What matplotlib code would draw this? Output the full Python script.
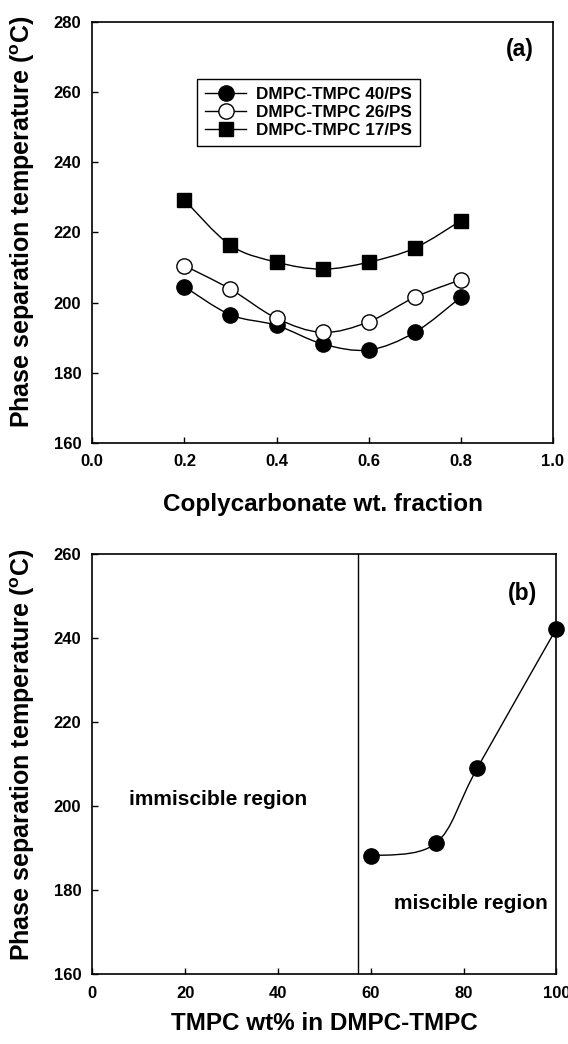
import numpy as np
import matplotlib.pyplot as plt
from matplotlib.path import Path
from matplotlib.patches import PathPatch
from matplotlib.lines import Line2D

plt.rcParams['font.family'] = ['Liberation Sans', 'DejaVu Sans']
plt.rcParams['font.weight'] = 'bold'
plt.rcParams['mathtext.fontset'] = 'custom'
plt.rcParams['mathtext.rm'] = 'Liberation Sans:bold'
plt.rcParams['mathtext.bf'] = 'Liberation Sans:bold'

# (a) phase separation temperature vs copolycarbonate fraction
frac = [0.2, 0.3, 0.4, 0.5, 0.6, 0.7, 0.8]
t_40 = [204.5, 196.5, 193.5, 188.2, 186.5, 191.5, 201.5]
t_26 = [210.5, 203.8, 195.5, 191.5, 194.5, 201.5, 206.5]
t_17 = [229.2, 216.3, 211.5, 209.5, 211.5, 215.5, 223.3]

# (b) phase separation temperature vs TMPC content
tmpc = [60, 74, 83, 100]
t_b = [188.2, 191.2, 209.2, 242.3]
boundary = 57.3

ylab = 'Phase separation temperature ($^{\\mathbf{o}}$C)'


def smooth_line(ax, x, y, lw=1.0):
    # Catmull-Rom curve through the points, drawn as cubic Bezier segments
    p = np.column_stack([x, y]).astype(float)
    verts = [p[0]]
    codes = [Path.MOVETO]
    for i in range(len(p) - 1):
        p0 = p[i - 1] if i > 0 else p[i]
        p3 = p[i + 2] if i + 2 < len(p) else p[i + 1]
        c1 = p[i] + (p[i + 1] - p0) / 6
        c2 = p[i + 1] - (p3 - p[i]) / 6
        verts += [c1, c2, p[i + 1]]
        codes += [Path.CURVE4] * 3
    ax.add_patch(PathPatch(Path(verts, codes), fill=False, lw=lw, color='black', zorder=2))


def style_axes(ax):
    for s in ax.spines.values():
        s.set_linewidth(1.2)
    ax.tick_params(direction='in', length=4, width=1, labelsize=12, pad=8)
    for lab in ax.get_xticklabels() + ax.get_yticklabels():
        lab.set_fontweight('bold')


fig = plt.figure(figsize=(5.68, 10.44), dpi=100)

# top panel
ax1 = fig.add_axes([0.1625, 0.5757, 0.811, 0.4036])
ms = 11
for y, mk, fc in [(t_40, 'o', 'black'), (t_26, 'o', 'white'), (t_17, 's', 'black')]:
    smooth_line(ax1, frac, y)
    ax1.plot(frac, y, ls='none', marker=mk, ms=ms if mk == 'o' else ms - 0.5,
             mfc=fc, mec='black', mew=1.0, zorder=3)

handles = [Line2D([], [], color='black', lw=1, marker='o', ms=ms, mfc='black', mec='black'),
           Line2D([], [], color='black', lw=1, marker='o', ms=ms, mfc='white', mec='black'),
           Line2D([], [], color='black', lw=1, marker='s', ms=ms - 0.5, mfc='black', mec='black')]
leg = ax1.legend(handles, ['DMPC-TMPC 40/PS', 'DMPC-TMPC 26/PS', 'DMPC-TMPC 17/PS'],
                 loc='upper left', bbox_to_anchor=(0.227, 0.864), borderaxespad=0,
                 fancybox=False, edgecolor='black', framealpha=1,
                 prop={'size': 12.3, 'weight': 'bold'},
                 handlelength=2.4, handletextpad=0.55, borderpad=0.5, labelspacing=0.15)
leg.get_frame().set_linewidth(1.0)

ax1.set_xlim(0, 1.0)
ax1.set_ylim(160, 280)
ax1.set_xticks([0.0, 0.2, 0.4, 0.6, 0.8, 1.0])
ax1.set_yticks(range(160, 281, 20))
ax1.set_xticklabels(['0.0', '0.2', '0.4', '0.6', '0.8', '1.0'])
ax1.text(0.928, 0.933, '(a)', transform=ax1.transAxes, fontsize=16.5, fontweight='bold',
         ha='center', va='center')
ax1.set_xlabel('Coplycarbonate wt. fraction', fontsize=17.5, fontweight='bold')
ax1.xaxis.set_label_coords(0.5, -0.118)
ax1.set_ylabel(ylab, fontsize=18, fontweight='bold')
ax1.yaxis.set_label_coords(-0.12, 0.526)
style_axes(ax1)

# bottom panel
ax2 = fig.add_axes([0.1625, 0.0666, 0.817, 0.4025])
smooth_line(ax2, tmpc, t_b)
ax2.plot(tmpc, t_b, ls='none', marker='o', ms=ms, mfc='black', mec='black', zorder=3,
         clip_on=False)
ax2.axvline(boundary, color='black', lw=1.0)
ax2.set_xlim(0, 100)
ax2.set_ylim(160, 260)
ax2.set_xticks(range(0, 101, 20))
ax2.set_yticks(range(160, 261, 20))
ax2.text(27, 201.7, 'immiscible region', fontsize=15, fontweight='bold', ha='center', va='center')
ax2.text(81.6, 177, 'miscible region', fontsize=15, fontweight='bold', ha='center', va='center')
ax2.text(0.926, 0.906, '(b)', transform=ax2.transAxes, fontsize=16.5, fontweight='bold',
         ha='center', va='center')
ax2.set_xlabel('TMPC wt% in DMPC-TMPC', fontsize=17.5, fontweight='bold')
ax2.xaxis.set_label_coords(0.5, -0.09)
ax2.set_ylabel(ylab, fontsize=18, fontweight='bold')
ax2.yaxis.set_label_coords(-0.119, 0.523)
style_axes(ax2)

fig.savefig('out.png', dpi=100)
